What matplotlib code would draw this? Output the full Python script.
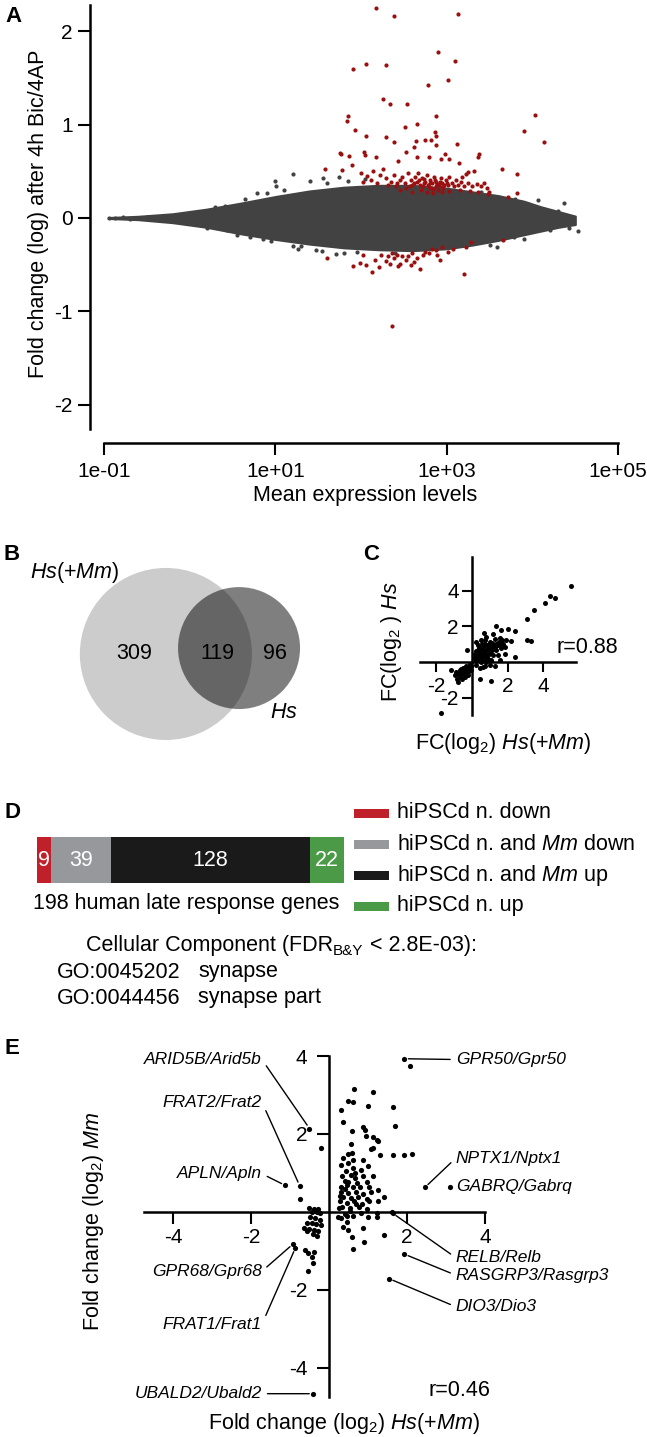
import numpy as np
import matplotlib
matplotlib.use("Agg")
import matplotlib.pyplot as plt
from matplotlib.patches import Circle, Rectangle

plt.rcParams['font.family'] = ['Liberation Sans', 'DejaVu Sans']
plt.rcParams['mathtext.fontset'] = 'custom'
plt.rcParams['mathtext.rm'] = 'Liberation Sans'
plt.rcParams['mathtext.it'] = 'Liberation Sans:italic'
plt.rcParams['mathtext.bf'] = 'Liberation Sans:bold'

# ---------------- data ----------------
# A: MA plot, log10(mean expression) vs fold change (log)
cloud_logmean = [-0.95, -0.6, -0.2, 0.2, 0.6, 1.0, 1.4, 1.8, 2.2, 2.6, 3.0, 3.3, 3.6, 3.9, 4.1, 4.3, 4.5]
cloud_hi = [0.005, 0.018, 0.045, 0.095, 0.16, 0.23, 0.29, 0.33, 0.35, 0.35, 0.32, 0.28, 0.24, 0.18, 0.12, 0.07, 0.02]
cloud_lo = [-0.005, -0.018, -0.05, -0.10, -0.17, -0.23, -0.28, -0.32, -0.34, -0.35, -0.33, -0.29, -0.24, -0.18, -0.14, -0.10, -0.07]

gray_pts = [(1.21, 0.47), (1.00, 0.40), (1.01, 0.34), (0.78, 0.27), (0.41, 0.13), (0.86, -0.22),
            (0.95, -0.25), (0.43, -0.13), (1.27, -0.33), (1.48, -0.34), (1.71, -0.39), (1.95, -0.36),
            (1.40, 0.40), (1.56, 0.43), (1.74, 0.44), (-0.78, 0.01), (-0.64, 0.0), (-0.70, -0.01),
            (-0.94, 0.0), (-0.87, 0.005), (-0.5, 0.01), (-0.45, -0.01), (4.37, 0.16), (4.07, 0.19),
            (4.46, -0.04), (4.53, -0.14), (4.43, -0.11), (4.24, 0.01), (4.17, 0.08), (3.78, -0.20),
            (3.59, -0.31), (3.80, 0.20), (4.00, -0.02), (4.09, -0.06), (0.65, 0.2), (0.7, -0.2),
            (1.1, 0.3), (1.2, -0.3), (2.4, -0.37), (3.4, 0.28), (1.6, 0.38), (1.85, 0.4), (2.05, 0.42),
            (1.3, -0.3), (1.55, -0.35), (1.8, -0.37), (3.5, -0.29), (3.9, -0.22), (4.2, -0.13),
            (0.9, 0.27), (0.3, 0.12), (0.2, -0.11), (0.55, -0.18), (3.95, 0.15), (4.3, 0.08)]

red_up = [(2.18, 2.25), (2.38, 2.16), (3.13, 2.19), (2.90, 1.78), (3.10, 1.68), (2.06, 1.65), (2.29, 1.64),
          (1.91, 1.60), (3.02, 1.48), (2.78, 1.43), (2.26, 1.28), (2.34, 1.22), (2.54, 1.22), (4.03, 1.10),
          (2.88, 1.09), (1.85, 1.09), (1.84, 1.04), (1.93, 0.94), (2.51, 0.98), (2.65, 1.01), (3.90, 0.93),
          (2.06, 0.88), (2.29, 0.87), (2.86, 0.92), (2.87, 0.88), (2.75, 0.84), (4.14, 0.81), (2.38, 0.81),
          (2.64, 0.82), (2.82, 0.84), (2.88, 0.78), (3.12, 0.79), (2.62, 0.76), (2.03, 0.71), (2.05, 0.68),
          (1.75, 0.70), (1.77, 0.69), (2.52, 0.71), (3.38, 0.69), (3.36, 0.65), (2.98, 0.69), (1.86, 0.66),
          (2.17, 0.65), (2.65, 0.65), (2.79, 0.65), (2.93, 0.63), (2.43, 0.61), (3.03, 0.63), (1.89, 0.57),
          (3.14, 0.59), (1.78, 0.51), (2.26, 0.53), (3.64, 0.52), (3.82, 0.47), (1.58, 0.53), (3.25, 0.49),
          (3.32, 0.50), (3.82, 0.27), (3.71, 0.22)]
red_band = [(2.00, 0.48), (2.07, 0.45), (2.14, 0.50), (2.22, 0.46), (2.29, 0.43), (2.35, 0.39), (2.38, 0.46),
            (2.42, 0.37), (2.45, 0.41), (2.48, 0.44), (2.51, 0.38), (2.55, 0.48), (2.58, 0.41), (2.60, 0.35),
            (2.63, 0.44), (2.65, 0.39), (2.67, 0.48), (2.69, 0.35), (2.71, 0.43), (2.72, 0.34), (2.75, 0.39),
            (2.77, 0.46), (2.78, 0.35), (2.80, 0.41), (2.82, 0.32), (2.83, 0.37), (2.85, 0.44), (2.87, 0.34),
            (2.88, 0.39), (2.90, 0.30), (2.91, 0.35), (2.93, 0.43), (2.95, 0.37), (2.96, 0.32), (2.99, 0.41),
            (3.01, 0.35), (3.03, 0.44), (3.06, 0.38), (3.08, 0.34), (3.11, 0.41), (3.13, 0.35), (3.17, 0.39),
            (3.20, 0.34), (3.25, 0.37), (3.30, 0.34), (3.35, 0.36), (3.40, 0.34), (3.44, 0.37), (3.47, 0.32),
            (3.49, 0.28), (2.41, 0.34), (2.46, 0.30), (2.53, 0.32), (2.60, 0.28), (2.70, 0.30), (2.77, 0.28),
            (2.84, 0.27), (2.95, 0.28), (3.03, 0.29), (3.15, 0.30), (3.27, 0.29), (3.37, 0.28), (3.48, 0.26),
            (2.12, 0.41), (2.19, 0.38), (2.02, 0.39), (2.31, 0.35), (3.18, 0.44), (3.23, 0.47),
            (2.74, 0.42), (2.81, 0.38), (2.86, 0.41), (2.89, 0.36), (2.92, 0.39), (2.97, 0.35), (2.79, 0.33),
            (2.73, 0.37), (2.68, 0.41), (2.84, 0.31), (2.94, 0.33), (3.00, 0.38), (2.62, 0.37), (2.57, 0.34)]
red_down = [(1.60, -0.43), (1.91, -0.52), (1.99, -0.48), (2.06, -0.50), (2.13, -0.58), (2.21, -0.53),
            (2.23, -0.40), (2.29, -0.46), (2.31, -0.41), (2.36, -0.38), (2.38, -0.43), (2.42, -0.40),
            (2.46, -0.49), (2.48, -0.41), (2.52, -0.45), (2.55, -0.41), (2.58, -0.50), (2.60, -0.38),
            (2.65, -0.43), (2.69, -0.55), (2.72, -0.40), (2.75, -0.36), (2.79, -0.38), (2.83, -0.33),
            (2.87, -0.34), (2.92, -0.45), (2.95, -0.31), (3.01, -0.36), (3.07, -0.33), (3.20, -0.60),
            (3.23, -0.31), (3.28, -0.26), (3.66, -0.24), (2.36, -1.16), (2.34, -0.49), (2.43, -0.52),
            (2.16, -0.45), (2.02, -0.40), (2.89, -0.40), (2.62, -0.47)]

# B: Venn counts
venn_only_big, venn_both, venn_only_small = 309, 119, 96

# C: FC(log2) Hs(+Mm) vs FC(log2) Hs
c_pts = [(5.59, 4.28), (4.37, 3.69), (4.65, 3.59), (4.09, 3.30), (3.49, 2.92), (3.10, 2.42), (1.37, 2.01),
         (2.03, 1.86), (2.44, 1.73), (1.61, 1.77), (0.68, 1.62), (3.10, 1.25), (3.34, 1.17), (0.24, 1.12),
         (-0.26, 0.65), (1.84, 0.47), (2.40, 0.28), (0.43, -0.93), (1.05, -1.06), (-1.76, -2.89),
         (1.18, 1.55), (0.81, 1.43), (1.28, 1.30), (1.56, 1.36), (1.69, 1.21), (1.93, 1.25), (2.18, 1.17),
         (0.99, 1.12), (0.71, 1.02), (1.37, 1.02), (1.13, 0.88), (0.53, 0.84), (0.86, 0.74), (0.34, 0.65),
         (0.62, 0.56), (0.99, 0.61), (1.37, 0.69), (1.65, 0.80), (0.15, 0.47), (0.43, 0.37), (0.81, 0.43),
         (1.18, 0.37), (0.11, 0.24), (0.34, 0.19), (0.62, 0.13), (0.94, 0.09), (1.28, -0.24), (0.71, -0.24),
         (0.24, -0.19), (0.99, -0.19), (0.49, 0.0), (1.56, 0.09), (0.53, 1.21), (1.05, 0.80), (0.34, 0.93),
         (0.75, 1.21), (1.74, 1.02), (0.24, 0.09), (0.81, 0.0), (1.46, 0.37), (0.62, -0.28), (0.43, -0.32),
         (1.09, 0.09), (1.84, 0.84), (0.9, 0.95), (0.6, 0.7), (0.45, 0.55), (0.3, 0.3), (0.7, 0.35),
         (1.0, 0.5), (1.2, 0.9), (0.55, 0.25), (0.2, 0.6), (1.5, 1.15), (0.85, 0.2), (0.4, 0.8),
         (0.95, 0.75), (1.1, 0.65), (0.75, 0.6), (0.5, 0.45), (1.3, 0.85), (1.45, 0.95), (0.65, 0.9),
         (0.25, 0.35), (0.8, 0.3), (1.15, 1.05), (0.35, 0.5), (0.9, 0.4), (1.6, 1.0), (0.55, 1.0),
         (-0.13, -0.13), (-0.32, -0.24), (-0.51, -0.32), (-0.23, -0.37), (-0.69, -0.43), (-0.41, -0.47),
         (-0.88, -0.56), (-0.60, -0.61), (-0.32, -0.65), (-0.98, -0.74), (-0.69, -0.80), (-0.41, -0.84),
         (-0.83, -0.93), (-0.56, -0.93), (-0.79, -1.12), (-1.16, -0.43), (-0.08, -0.47), (-0.23, -0.74),
         (-0.04, -0.24), (-0.5, -0.55), (-0.7, -0.65), (-0.35, -0.4), (-0.6, -0.4), (-0.45, -0.7),
         (-0.25, -0.55), (-0.8, -0.7), (-0.15, -0.3)]

# D: 198 human late response genes
d_labels = ['hiPSCd n. down', r'hiPSCd n. and $\mathit{Mm}$ down',
            r'hiPSCd n. and $\mathit{Mm}$ up', 'hiPSCd n. up']
d_counts = [9, 39, 128, 22]
d_colors = ['#c0202a', '#97989c', '#1a1a1a', '#4b9a47']

# E: Fold change (log2) Hs(+Mm) vs Mm
e_pts = [(0.32, 2.62), (0.63, 3.16), (1.14, 3.07), (0.50, 2.84), (0.61, 2.82), (1.01, 2.73), (1.65, 2.69),
         (0.37, 2.32), (0.87, 2.19), (0.92, 2.11), (1.70, 2.21), (0.58, 2.07), (1.14, 1.92), (0.96, 1.95),
         (1.22, 1.85), (1.26, 1.81), (0.56, 1.74), (1.08, 1.61), (1.14, 1.65), (0.50, 1.49), (0.59, 1.51),
         (1.30, 1.47), (1.65, 1.47), (1.93, 1.47), (2.12, 1.49), (0.37, 1.38), (0.61, 1.34), (0.87, 1.34),
         (0.32, 1.21), (0.50, 1.25), (0.61, 1.12), (0.82, 1.08), (1.01, 1.17), (0.43, 1.04), (0.34, 0.91),
         (0.56, 0.95), (0.66, 0.87), (0.87, 0.93), (1.14, 0.93), (0.50, 0.78), (0.71, 0.75), (0.98, 0.78),
         (0.32, 0.65), (0.45, 0.69), (0.61, 0.63), (0.80, 0.65), (1.03, 0.65), (1.25, 0.57), (0.32, 0.52),
         (0.50, 0.48), (0.68, 0.50), (0.87, 0.46), (1.08, 0.52), (0.37, 0.39), (0.56, 0.35), (0.75, 0.39),
         (0.98, 0.33), (1.40, 0.39), (0.29, 0.27), (0.45, 0.22), (0.64, 0.27), (0.85, 0.21), (1.03, 0.27),
         (1.25, 0.27), (0.34, 0.14), (0.53, 0.09), (0.77, 0.12), (0.98, 0.07), (0.40, -0.05), (0.61, -0.10),
         (0.82, -0.03), (1.01, -0.12), (1.22, -0.03), (1.61, 0.01), (0.32, -0.16), (0.45, -0.25),
         (0.37, -0.38), (0.50, -0.46), (0.87, -0.42), (0.58, -0.63), (1.40, -0.59), (0.90, -0.76),
         (0.61, -0.95), (0.26, 0.09), (0.24, -0.12), (1.24, -0.12), (0.42, 0.58), (0.7, 0.2),
         (0.55, 0.02), (0.4, 0.8), (0.28, 0.4), (0.66, 1.0), (0.45, -0.1),
         (-0.21, 1.64), (-0.74, 0.33), (-0.50, 0.09), (-0.38, 0.08), (-0.27, 0.07), (-0.44, 0.01),
         (-0.31, 0.0), (-0.22, -0.02), (-0.48, -0.14), (-0.35, -0.16), (-0.24, -0.20), (-0.56, -0.27),
         (-0.44, -0.29), (-0.33, -0.31), (-0.21, -0.33), (-0.65, -0.42), (-0.50, -0.44), (-0.38, -0.46),
         (-0.27, -0.50), (-0.41, -0.56), (-0.31, -0.62), (-0.56, -0.50), (-0.61, -0.98), (-0.38, -1.02),
         (-0.53, -1.06), (-0.43, -1.15), (-0.41, -1.30), (-0.53, -1.51)]

# labelled genes: (label, x, y, label x, label y)
e_genes = [('ARID5B/Arid5b', -0.50, 2.14, -1.72, 3.91),
           ('FRAT2/Frat2', -0.75, 0.67, -1.72, 2.82),
           ('APLN/Apln', -1.12, 0.68, -1.72, 0.98),
           ('GPR68/Gpr68', -0.92, -0.82, -1.72, -1.52),
           ('FRAT1/Frat1', -0.86, -0.92, -1.72, -2.88),
           ('UBALD2/Ubald2', -0.40, -4.66, -1.72, -4.66),
           ('GPR50/Gpr50', 1.93, 3.93, 3.25, 3.91),
           ('NPTX1/Nptx1', 2.46, 0.63, 3.25, 1.38),
           ('GABRQ/Gabrq', 3.10, 0.63, 3.27, 0.65),
           ('RELB/Relb', 1.63, -0.03, 3.25, -1.17),
           ('RASGRP3/Rasgrp3', 1.93, -1.08, 3.25, -1.62),
           ('DIO3/Dio3', 1.54, -1.71, 3.25, -2.43)]
e_extra = [(2.07, 3.74)]

GRAY = '#424242'
RED = '#9a1010'
FS = 15.5

W, H = 647, 1437
fig = plt.figure(figsize=(W / 100, H / 100), dpi=100)


def box(l, t, r, b):
    return [l / W, 1 - b / H, (r - l) / W, (b - t) / H]


def ftext(x, y, s, **kw):
    kw.setdefault('size', FS)
    kw.setdefault('ha', 'center')
    kw.setdefault('va', 'center')
    return fig.text(x / W, 1 - y / H, s, **kw)


def style_axes(ax, lw=1.8):
    for s in ['top', 'right']:
        ax.spines[s].set_visible(False)
    for s in ['left', 'bottom']:
        ax.spines[s].set_linewidth(lw)


# ---------------- A ----------------
axA = fig.add_axes(box(90, 5, 640, 443))
axA.fill_between(10 ** np.array(cloud_logmean), cloud_lo, cloud_hi, color=GRAY, lw=1.5, edgecolor=GRAY)
g = np.array(gray_pts)
axA.scatter(10 ** g[:, 0], g[:, 1], s=9, color=GRAY, lw=0)
r = np.array(red_up + red_band + red_down)
axA.scatter(10 ** r[:, 0], r[:, 1], s=9, color=RED, lw=0)
axA.set_xscale('log')
axA.set_xlim(10 ** -1.163, 10 ** 5.255)
axA.set_ylim(-2.412, 2.283)
style_axes(axA)
axA.spines['left'].set_bounds(-2.26, 2.283)
axA.spines['bottom'].set_bounds(0.1, 1e5)
axA.set_xticks([0.1, 10, 1000, 1e5])
axA.set_xticklabels(['1e-01', '1e+01', '1e+03', '1e+05'])
axA.xaxis.set_minor_locator(matplotlib.ticker.NullLocator())
axA.set_yticks([-2, -1, 0, 1, 2])
axA.set_yticklabels(['-2', '-1', '0', '1', '2'])
axA.tick_params(length=8.5, width=1.5, labelsize=15)
axA.tick_params(axis='x', pad=5)
axA.tick_params(axis='y', pad=4)
ftext(39, 214, 'Fold change (log) after 4h Bic/4AP', rotation=90)
ftext(365, 496, 'Mean expression levels')
ftext(14, 16, 'A', weight='bold', size=16)

# ---------------- B ----------------
axB = fig.add_axes(box(0, 560, 320, 750))
axB.set_xlim(-22.5, 20.9)
axB.set_ylim(-13.03, 12.75)
axB.axis('off')
n_big = venn_only_big + venn_both
n_small = venn_only_small + venn_both
r1 = np.sqrt(n_big / np.pi)
r2 = np.sqrt(n_small / np.pi)


def lens(d):
    a1 = np.arccos((d * d + r1 * r1 - r2 * r2) / (2 * d * r1))
    a2 = np.arccos((d * d + r2 * r2 - r1 * r1) / (2 * d * r2))
    k = np.sqrt((-d + r1 + r2) * (d + r1 - r2) * (d - r1 + r2) * (d + r1 + r2))
    return r1 * r1 * a1 + r2 * r2 * a2 - 0.5 * k


lo_d, hi_d = r1 - r2 + 1e-6, r1 + r2 - 1e-6
for _ in range(60):
    mid = 0.5 * (lo_d + hi_d)
    if lens(mid) > venn_both:
        lo_d = mid
    else:
        hi_d = mid
dist = 0.5 * (lo_d + hi_d)
axB.add_patch(Circle((0, 0), r1, facecolor='#cccccc', edgecolor='none'))
axB.add_patch(Circle((dist, 0.8), r2, facecolor='black', alpha=0.5, edgecolor='none'))
ftext(134, 653, str(venn_only_big))
ftext(217, 653, str(venn_both))
ftext(275, 653, str(venn_only_small))
ftext(75, 573, r'$\mathit{Hs}$(+$\mathit{Mm}$)')
ftext(284, 712, r'$\mathit{Hs}$')
ftext(12, 555, 'B', weight='bold', size=16)

# ---------------- C ----------------
axC = fig.add_axes(box(415, 555, 590, 720))
cp = np.array(c_pts)
axC.scatter(cp[:, 0], cp[:, 1], s=13, color='black', lw=0)
axC.set_xlim(-3.2, 6.63)
axC.set_ylim(-3.26, 6.01)
style_axes(axC)
axC.spines['left'].set_position(('data', 0))
axC.spines['bottom'].set_position(('data', 0))
axC.spines['bottom'].set_bounds(-2.9, 5.85)
axC.spines['left'].set_bounds(-3.0, 5.9)
axC.set_xticks([-2, 2, 4])
axC.set_xticklabels(['-2', '2', '4'])
axC.set_yticks([-2, 2, 4])
axC.set_yticklabels(['-2', '2', '4'])
axC.tick_params(length=7.5, width=1.5, labelsize=15)
axC.tick_params(axis='x', pad=3)
axC.tick_params(axis='y', pad=2)
ftext(392, 642, r'FC(log$_2$ ) $\mathit{Hs}$', rotation=90)
ftext(503, 743, r'FC(log$_2$) $\mathit{Hs}$(+$\mathit{Mm}$)')
ftext(587, 648, 'r=0.88')
ftext(371, 555, 'C', weight='bold', size=16)

# ---------------- D ----------------
axD = fig.add_axes(box(37, 837, 344, 883))
lefts = np.concatenate([[0], np.cumsum(d_counts)[:-1]])
axD.barh(0, d_counts, left=lefts, height=1, color=d_colors, lw=0)
for lft, c in zip(lefts, d_counts):
    axD.text(lft + c / 2, 0, str(c), ha='center', va='center', color='white', size=FS)
axD.set_xlim(0, sum(d_counts))
axD.set_ylim(-0.5, 0.5)
axD.axis('off')
for i, (lab, col) in enumerate(zip(d_labels, d_colors)):
    yc = 813 + i * 31
    fig.add_artist(Rectangle((354 / W, 1 - (yc + 4.5) / H), 35 / W, 9 / H,
                             transform=fig.transFigure, color=col, lw=0))
    ftext(397, yc, lab, ha='left')
ftext(33, 903, '%d human late response genes' % sum(d_counts), ha='left')

# GO header with a small subscript, set piece by piece
renderer = fig.canvas.get_renderer()
x0 = 86
for piece, sz, dy in [('Cellular Component (FDR', FS, 0), ('B&Y', 11, 5), (' < 2.8E-03):', FS, 0)]:
    t = ftext(x0, 946 + dy, piece, ha='left', size=sz)
    x0 += t.get_window_extent(renderer).width
ftext(57, 972, 'GO:0045202', ha='left')
ftext(198, 972, 'synapse', ha='left')
ftext(57, 998, 'GO:0044456', ha='left')
ftext(198, 998, 'synapse part', ha='left')
ftext(12, 812, 'D', weight='bold', size=16)

# ---------------- E ----------------
axE = fig.add_axes(box(140, 1050, 500, 1405))
ep = np.array(e_pts + e_extra + [(gx, gy) for _, gx, gy, _, _ in e_genes])
axE.scatter(ep[:, 0], ep[:, 1], s=14, color='black', lw=0, zorder=3)
axE.set_xlim(-4.846, 4.385)
axE.set_ylim(-4.95, 4.154)
style_axes(axE)
axE.spines['left'].set_position(('data', 0))
axE.spines['bottom'].set_position(('data', 0))
axE.spines['bottom'].set_bounds(-4.75, 4.0)
axE.spines['left'].set_bounds(-4.75, 4.0)
axE.set_xticks([-4, -2, 2, 4])
axE.set_xticklabels(['-4', '-2', '2', '4'])
axE.set_yticks([-4, -2, 2, 4])
axE.set_yticklabels(['-4', '-2', '2', '4'])
axE.tick_params(length=8.5, width=1.5, labelsize=15)
axE.tick_params(axis='x', pad=3)
axE.tick_params(axis='y', pad=7)
for lab, gx, gy, tx, ty in e_genes:
    right = tx > 0
    if lab.startswith('GABRQ'):
        axE.text(tx, ty, lab, ha='left', va='center', style='italic', size=12.5)
        continue
    axE.annotate(lab, xy=(gx, gy), xytext=(tx, ty), textcoords='data',
                 ha='left' if right else 'right', va='center', style='italic', size=12.5,
                 arrowprops=dict(arrowstyle='-', lw=1, color='black', shrinkA=2, shrinkB=3,
                                 relpos=(0, 0.5) if right else (1, 0.5)))
ftext(94, 1221, r'Fold change (log$_2$) $\mathit{Mm}$', rotation=90)
ftext(344, 1423, r'Fold change (log$_2$) $\mathit{Hs}$(+$\mathit{Mm}$)')
ftext(459, 1390, 'r=0.46')
ftext(12, 1048, 'E', weight='bold', size=16)

fig.savefig('out.png', dpi=100)
